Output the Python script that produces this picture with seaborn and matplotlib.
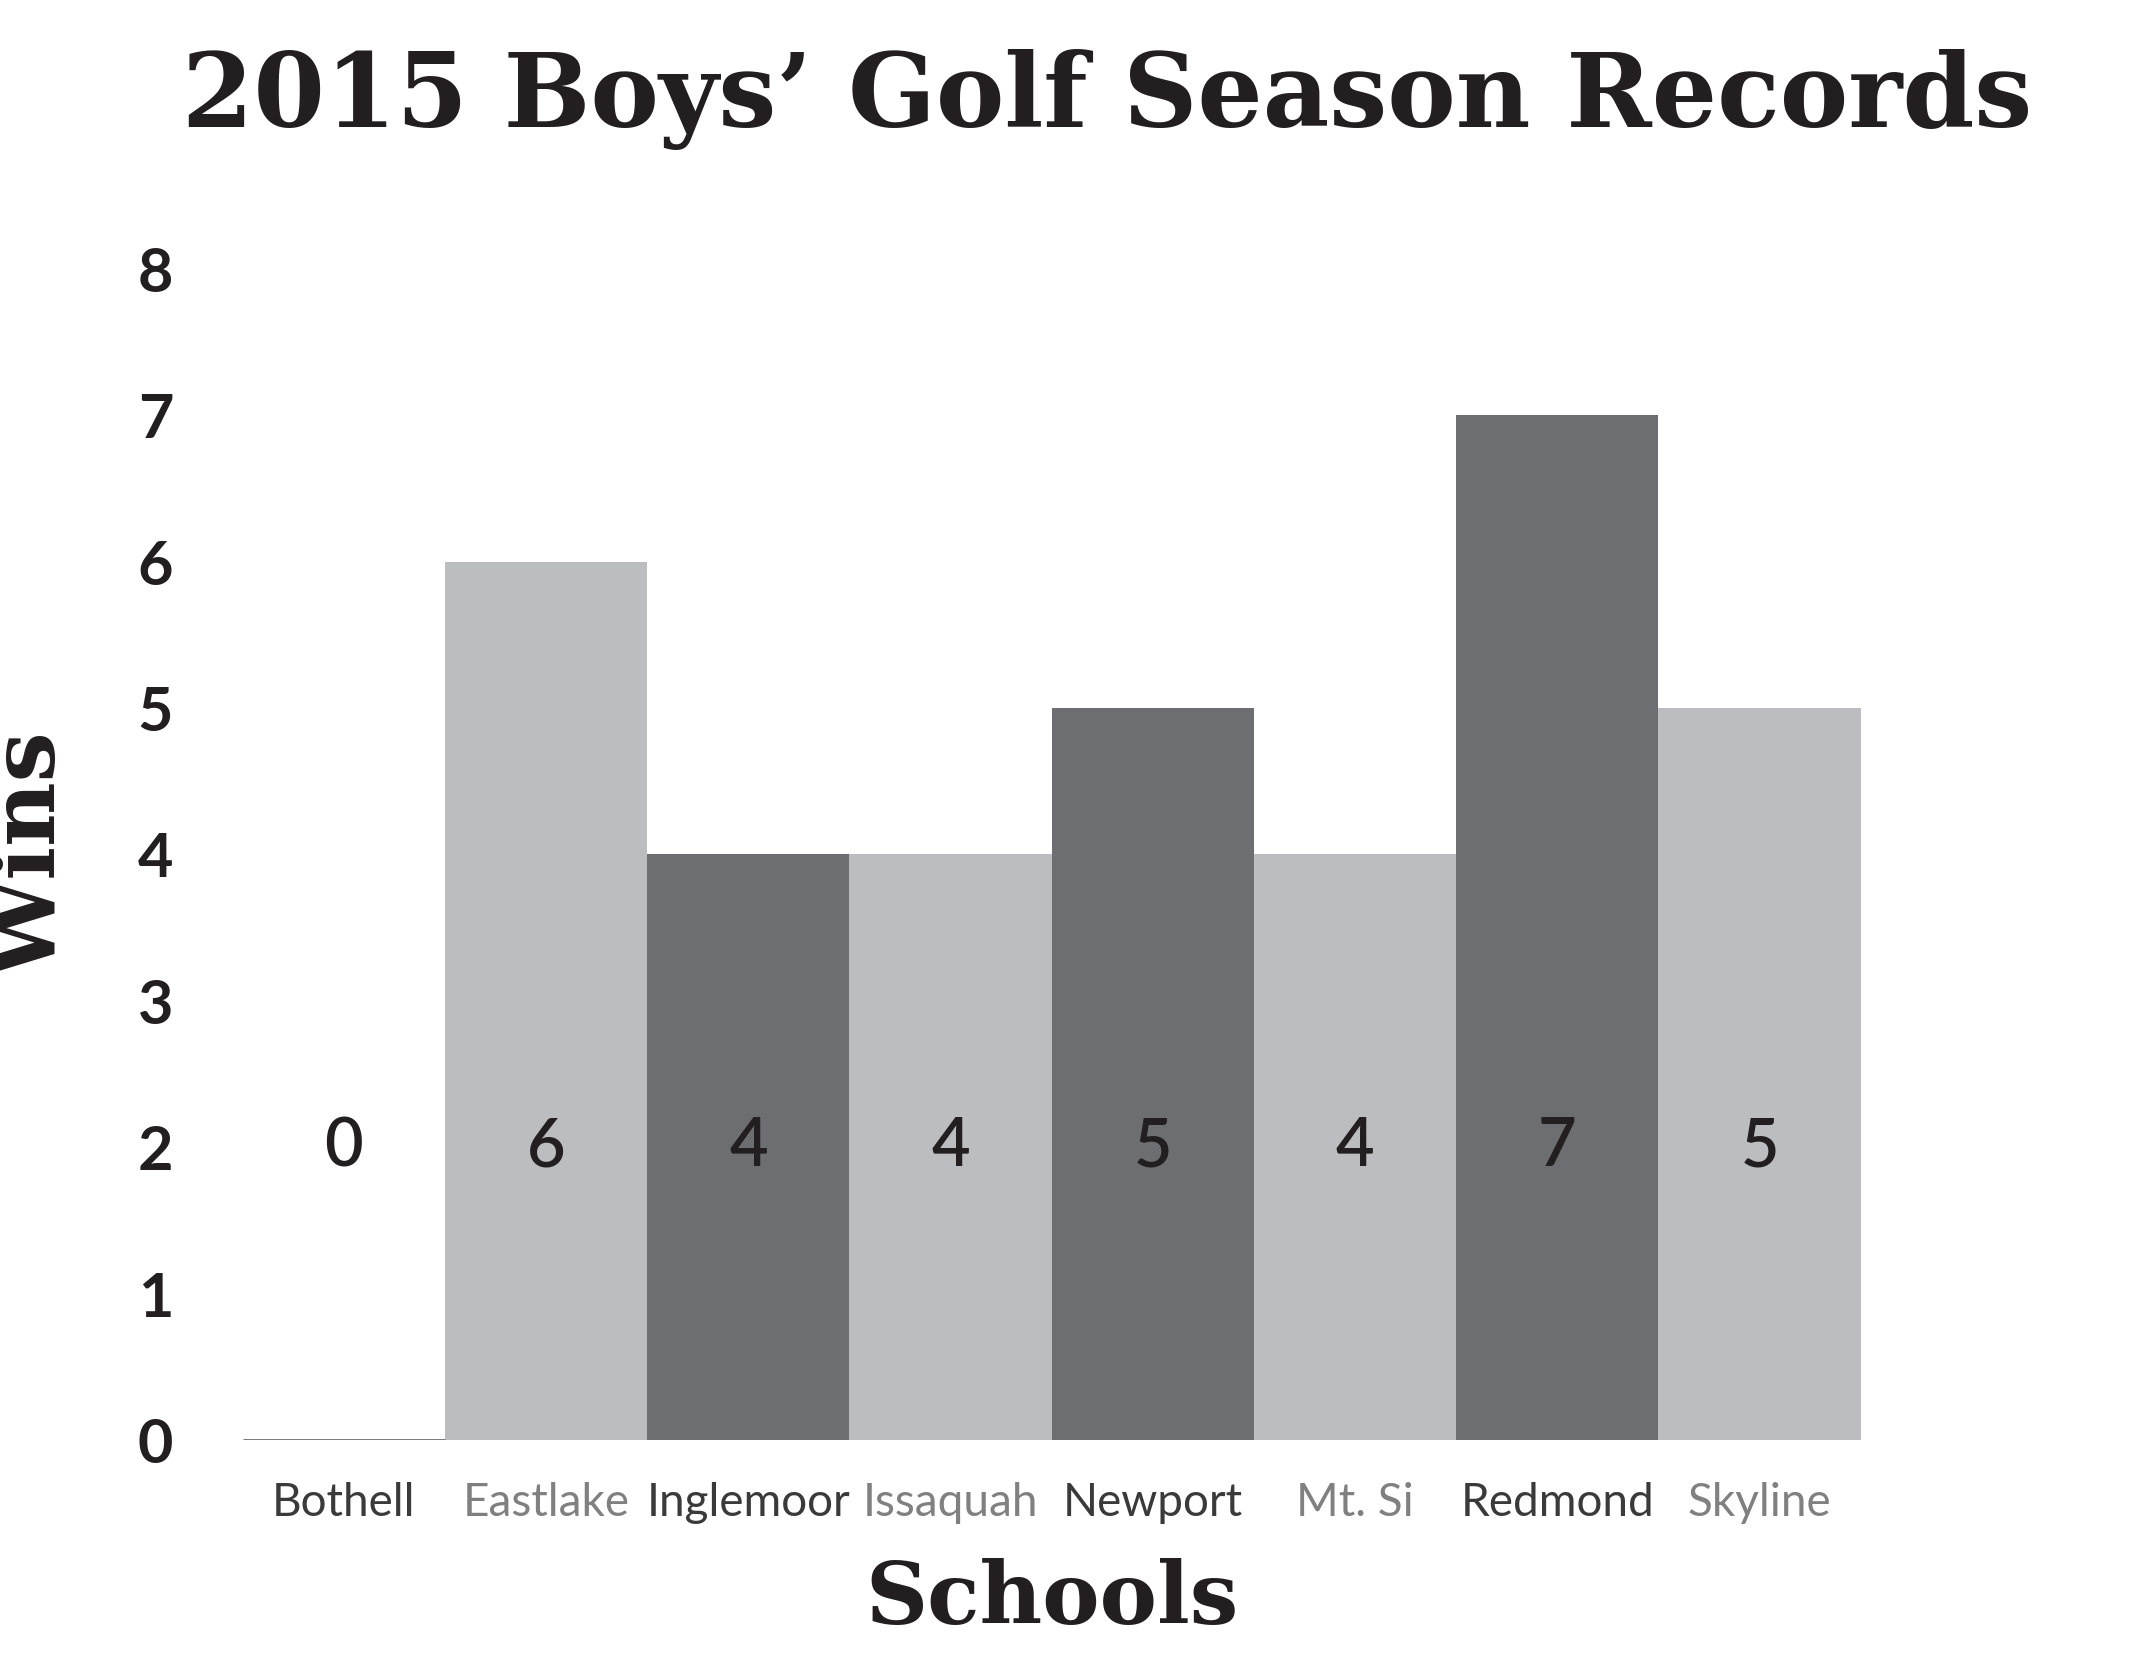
import matplotlib
matplotlib.use("Agg")
import matplotlib.pyplot as plt
import seaborn as sns
import pandas as pd

schools = ["Bothell", "Eastlake", "Inglemoor", "Issaquah", "Newport", "Mt. Si", "Redmond", "Skyline"]
wins = [0, 6, 4, 4, 5, 4, 7, 5]
bar_colors = ["#6d6e71", "#bcbdc0", "#6d6e71", "#bcbdc0", "#6d6e71", "#bcbdc0", "#6d6e71", "#bcbdc0"]
label_colors = ["#3a3a3a", "#808080", "#3a3a3a", "#808080", "#3a3a3a", "#808080", "#3a3a3a", "#808080"]

df = pd.DataFrame({"School": schools, "Wins": wins})

sns.set_theme(style="white")
fig = plt.figure(figsize=(21.29, 16.59), dpi=100)
ax = fig.add_axes([0.114, 0.132, 0.76, 0.706])

sns.barplot(data=df, x="School", y="Wins", hue="School", palette=bar_colors,
            legend=False, width=1.0, saturation=1, linewidth=0, ax=ax)

# Bothell has zero wins: draw its baseline
p0 = ax.patches[0]
ax.hlines(0, p0.get_x(), p0.get_x() + p0.get_width(), color="#6d6e71", lw=2)

for i, v in enumerate(wins):
    ax.text(i, 2, str(v), ha="center", va="center", fontsize=48,
            family="Lato", fontweight="semibold", color="#231f20")

ax.set_ylim(0, 8)
ax.set_yticks(range(0, 9))
ax.set_yticklabels([str(i) for i in range(0, 9)], family="Lato", fontweight="bold",
                   fontsize=44, color="#231f20")
ax.set_xticks(range(len(schools)))
ax.set_xticklabels(schools, family="Lato", fontsize=33)
for lbl, c in zip(ax.get_xticklabels(), label_colors):
    lbl.set_color(c)
ax.tick_params(axis="both", length=0)
ax.tick_params(axis="y", pad=50)
ax.tick_params(axis="x", pad=30)
ax.set_xlim(-0.5, len(schools) - 0.5)
sns.despine(ax=ax, left=True, bottom=True, top=True, right=True)

ax.set_xlabel("Schools", family="DejaVu Serif", fontweight="bold", fontsize=62,
              color="#231f20", labelpad=25)
ax.set_ylabel("Wins", family="DejaVu Serif", fontweight="bold", fontsize=64,
              color="#231f20", labelpad=45)

fig.text(0.52, 0.94, "2015 Boys\u2019 Golf Season Records", ha="center", va="center",
         family="DejaVu Serif", fontweight="bold", fontsize=74, color="#231f20")

fig.savefig("out.png", dpi=100, facecolor="white")
